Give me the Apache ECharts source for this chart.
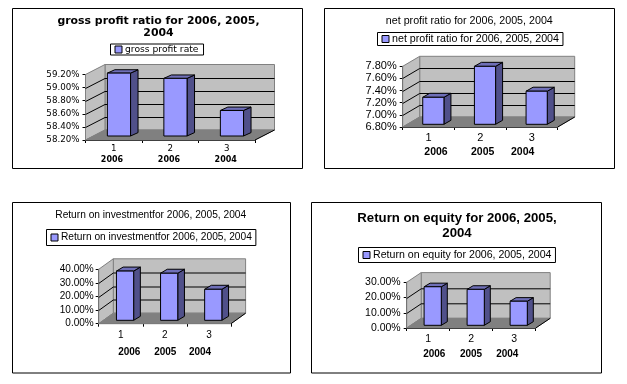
<!DOCTYPE html>
<html>
<head>
<meta charset="utf-8">
<style>
  html, body { margin: 0; padding: 0; background: #fff; }
  #chart { width: 627px; height: 384px; }
</style>
</head>
<body>
<div id="chart"></div>
<script src="https://cdn.jsdelivr.net/npm/echarts@6/dist/echarts.min.js"></script>
<script>
  // values
  const categories = ['1', '2', '3']

  const grossValues = [59.16, 59.08, 58.59]
  const netValues = [7.245, 7.755, 7.345]
  const investValues = [36.2, 34.6, 22.8]
  const equityValues = [25.3, 23.6, 15.8]

  const grossTicks = [58.2, 58.4, 58.6, 58.8, 59.0, 59.2]
  const netTicks = [6.8, 7.0, 7.2, 7.4, 7.6, 7.8]
  const investTicks = [0, 10, 20, 30, 40]
  const equityTicks = [0, 10, 20, 30]

  const grossYears = ['2006', '2006', '2004']
  const otherYears = ['2006', '2005', '2004']

  const grossName = 'gross profit rate'
  const netName = 'net profit ratio for 2006, 2005, 2004'
  const investName = 'Return on investmentfor 2006, 2005, 2004'
  const equityName = 'Return on equity for 2006, 2005, 2004'

  const FONT = '"Liberation Sans", Arial, sans-serif'
  const WIDE = '"DejaVu Sans", Verdana, sans-serif'

  // layout of each of the four boxes, in page pixels
  const panels = [
    {
      name: grossName, values: grossValues, ticks: grossTicks, years: grossYears,
      frame: [12.5, 8.5, 290, 160],
      grid: [85.5, 74.5, 169.5, 65.5], depth: [19.5, 10], barOff: [5.2, 4], barDepth: [7.5, 3.4], barW: 0.41,
      title: 'gross profit ratio for 2006, 2005,\n2004', titlePos: [158.5, 15], titleFont: { fontFamily: WIDE, fontSize: 10.9, fontWeight: 'bold', lineHeight: 12 },
      legendPos: [110.5, 44], legendFont: { fontFamily: WIDE, fontSize: 9.2 }, legendPad: [1, 5, 1, 4],
      axisFont: { fontFamily: WIDE, fontSize: 8.7 }, catMargin: 4, valMargin: 6,
      yearX: [112, 169, 225.7], yearY: 160, yearFont: { fontFamily: WIDE, fontSize: 8, fontWeight: 'bold' }
    },
    {
      name: netName, values: netValues, ticks: netTicks, years: otherYears,
      frame: [324.5, 8.5, 290, 160],
      grid: [402.7, 66.3, 155, 60.7], depth: [17, 10], barOff: [4.8, 2.7], barDepth: [7, 4], barW: 0.41,
      title: netName, titlePos: [469.3, 15.5], titleFont: { fontFamily: FONT, fontSize: 10.7, fontWeight: 'normal' },
      legendPos: [377.5, 32.5], legendFont: { fontFamily: FONT, fontSize: 10.7 }, legendPad: [1, 4, 1, 4],
      axisFont: { fontFamily: FONT, fontSize: 11 }, catMargin: 5, valMargin: 6,
      yearX: [436, 482.7, 522.7], yearY: 151.7, yearFont: { fontFamily: FONT, fontSize: 10.5, fontWeight: 'bold' }
    },
    {
      name: investName, values: investValues, ticks: investTicks, years: otherYears,
      frame: [12.5, 202.5, 278, 170.5],
      grid: [98.7, 269.3, 132.3, 54.4], depth: [14.6, 10.5], barOff: [4.3, 3.4], barDepth: [6.7, 4], barW: 0.39,
      title: investName, titlePos: [150.7, 210], titleFont: { fontFamily: FONT, fontSize: 10.2, fontWeight: 'normal' },
      legendPos: [46.5, 229.5], legendFont: { fontFamily: FONT, fontSize: 10.2 }, legendPad: [3, 4, 3, 4],
      axisFont: { fontFamily: FONT, fontSize: 10 }, catMargin: 7, valMargin: 5,
      yearX: [129.3, 165.3, 200], yearY: 352.7, yearFont: { fontFamily: FONT, fontSize: 10, fontWeight: 'bold' }
    },
    {
      name: equityName, values: equityValues, ticks: equityTicks, years: otherYears,
      frame: [311.5, 202.5, 290, 170.5],
      grid: [406.7, 282.3, 129, 45.7], depth: [14.5, 9.7], barOff: [4.5, 2.7], barDepth: [6, 3.6], barW: 0.4,
      title: 'Return on equity for 2006, 2005,\n2004', titlePos: [457, 210.5], titleFont: { fontFamily: FONT, fontSize: 13.2, fontWeight: 'bold', lineHeight: 15 },
      legendPos: [358.5, 247.5], legendFont: { fontFamily: FONT, fontSize: 10.6 }, legendPad: [2, 4, 2, 4],
      axisFont: { fontFamily: FONT, fontSize: 10.5 }, catMargin: 6, valMargin: 6,
      yearX: [434.3, 471, 507.3], yearY: 354.7, yearFont: { fontFamily: FONT, fontSize: 10, fontWeight: 'bold' }
    }
  ]

  const WALL = '#c0c0c0'
  const FLOOR = '#808080'
  const FRONT = '#9999ff'
  const SIDE = '#50508a'
  const TOP = '#6f6fb8'

  // back wall, side wall, floor and the gridlines that run over them
  function wallRender(p) {
    return function (params, api) {
      const cs = params.coordSys
      const [dx, dy] = p.depth
      const l = cs.x, r = cs.x + cs.width
      const b = api.coord([0, p.ticks[0]])[1]
      const t = api.coord([0, p.ticks[p.ticks.length - 1]])[1]
      const grey = { stroke: '#808080', lineWidth: 1 }
      const children = [
        { type: 'polygon', shape: { points: [[l + dx, t - dy], [r + dx, t - dy], [r + dx, b - dy], [l + dx, b - dy]] }, style: { fill: WALL, ...grey } },
        { type: 'polygon', shape: { points: [[l, t], [l + dx, t - dy], [l + dx, b - dy], [l, b]] }, style: { fill: WALL, ...grey } },
        { type: 'polygon', shape: { points: [[l, b], [l + dx, b - dy], [r + dx, b - dy], [r, b]] }, style: { fill: FLOOR, stroke: FLOOR } }
      ]
      p.ticks.slice(1, -1).forEach(v => {
        const y = Math.round(api.coord([0, v])[1]) + 0.5
        children.push({
          type: 'polyline',
          shape: { points: [[l, y], [l + dx, y - dy], [r + dx, y - dy]] },
          style: { fill: null, stroke: '#000', lineWidth: 1 }
        })
      })
      children.push({ type: 'line', shape: { x1: r, y1: b, x2: r + dx, y2: b - dy }, style: { stroke: '#000', lineWidth: 1 } })
      return { type: 'group', children }
    }
  }

  // one box-shaped bar, placed with the axis scales
  function barRender(p) {
    return function (params, api) {
      const [ox, oy] = p.barOff
      const [dx, dy] = p.barDepth
      const band = api.size([1, 0])[0]
      const w = band * p.barW
      const c = api.coord([api.value(0), api.value(1)])
      const base = api.coord([api.value(0), p.ticks[0]])
      const x0 = c[0] + ox - w / 2, x1 = x0 + w
      const yt = c[1] - oy, yb = base[1] - oy
      const line = { stroke: '#000', lineWidth: 1 }
      return {
        type: 'group',
        children: [
          { type: 'polygon', shape: { points: [[x1, yt], [x1 + dx, yt - dy], [x1 + dx, yb - dy], [x1, yb]] }, style: { fill: SIDE, ...line } },
          { type: 'polygon', shape: { points: [[x0, yt], [x0 + dx, yt - dy], [x1 + dx, yt - dy], [x1, yt]] }, style: { fill: TOP, ...line } },
          { type: 'rect', shape: { x: x0, y: yt, width: w, height: yb - yt }, style: { fill: FRONT, ...line } }
        ]
      }
    }
  }

  const title = [], legend = [], grid = [], xAxis = [], yAxis = [], series = [], graphic = []

  panels.forEach((p, i) => {
    title.push({
      text: p.title, left: p.titlePos[0], top: p.titlePos[1], textAlign: 'center', padding: 0,
      textStyle: { color: '#000', ...p.titleFont }
    })
    legend.push({
      data: [p.name], left: p.legendPos[0], top: p.legendPos[1], icon: 'rect',
      itemWidth: 7, itemHeight: 7, itemGap: 0, padding: p.legendPad, selectedMode: false,
      borderColor: '#000', borderWidth: 1, backgroundColor: '#fff',
      itemStyle: { borderColor: '#000', borderWidth: 1 },
      textStyle: { color: '#000', padding: [0, 0, 0, -2], ...p.legendFont }
    })
    grid.push({ left: p.grid[0], top: p.grid[1], width: p.grid[2], height: p.grid[3] })
    xAxis.push({
      type: 'category', gridIndex: i, data: categories,
      axisLine: { lineStyle: { color: '#000' } },
      axisTick: { show: true, length: 3, lineStyle: { color: '#000' } },
      axisLabel: { color: '#000', margin: p.catMargin, ...p.axisFont }
    })
    yAxis.push({
      type: 'value', gridIndex: i,
      min: p.ticks[0], max: p.ticks[p.ticks.length - 1], interval: p.ticks[1] - p.ticks[0],
      splitLine: { show: false },
      axisLine: { show: true, lineStyle: { color: '#000' } },
      axisTick: { show: true, length: 3, lineStyle: { color: '#000' } },
      axisLabel: { color: '#000', margin: p.valMargin, formatter: v => v.toFixed(2) + '%', ...p.axisFont }
    })
    series.push({
      type: 'custom', name: 'wall' + i, xAxisIndex: i, yAxisIndex: i, silent: true, z: 1,
      renderItem: wallRender(p), data: [[0, p.ticks[0]]]
    })
    series.push({
      type: 'custom', name: p.name, xAxisIndex: i, yAxisIndex: i, z: 3,
      itemStyle: { color: FRONT },
      renderItem: barRender(p), encode: { x: 0, y: 1 },
      data: p.values.map((v, k) => [k, v])
    })
    graphic.push({
      type: 'rect', shape: { x: p.frame[0], y: p.frame[1], width: p.frame[2], height: p.frame[3] },
      style: { fill: null, stroke: '#000', lineWidth: 1 }, silent: true
    })
    p.years.forEach((year, k) => {
      graphic.push({
        type: 'text', x: p.yearX[k], y: p.yearY,
        style: { text: year, fill: '#000', align: 'center', verticalAlign: 'middle', ...p.yearFont }
      })
    })
  })

  const chart = echarts.init(document.getElementById('chart'), null, { renderer: 'canvas' })
  chart.setOption({
    backgroundColor: '#fff',
    animation: false,
    title, legend, grid, xAxis, yAxis, series, graphic
  })
</script>
</body>
</html>
